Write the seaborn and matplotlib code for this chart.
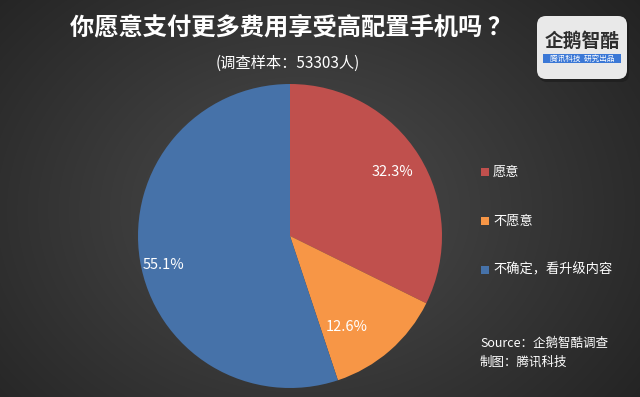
import numpy as np
import matplotlib
matplotlib.use("Agg")
import matplotlib.pyplot as plt
import seaborn as sns
from matplotlib.patches import FancyBboxPatch, Rectangle

sns.set_theme(style="white")
plt.rcParams['font.family'] = ['Noto Sans CJK SC', 'DejaVu Sans']

title = "你愿意支付更多费用享受高配置手机吗 ？"
subtitle = "(调查样本：53303人)"
categories = ["愿意", "不愿意", "不确定，看升级内容"]
values = [32.3, 12.6, 55.1]
colors = ["#c0504d", "#f79646", "#4672a9"]

W, H = 640, 397
fig = plt.figure(figsize=(W / 100, H / 100), dpi=100)

# background radial gradient
bg = fig.add_axes([0, 0, 1, 1])
yy, xx = np.mgrid[0:H, 0:W]
d = np.sqrt(((xx - 300) / 420.0) ** 2 + ((yy - 210) / 330.0) ** 2)
v = np.clip(0.30 - 0.16 * d, 0.13, 0.30)
img = np.dstack([v, v, v])
bg.imshow(img, extent=[0, W, H, 0], aspect='auto')
bg.set_xlim(0, W)
bg.set_ylim(H, 0)
bg.axis('off')

# pie axes: center (290,236), radius ~152
cx, cy, r = 290, 236, 152
ax = fig.add_axes([(cx - r) / W, 1 - (cy + r) / H, 2 * r / W, 2 * r / H])
wedges, texts = ax.pie(values, colors=colors, startangle=90, counterclock=False,
                       wedgeprops=dict(linewidth=0))
ax.set_aspect('auto')
ax.set_xlim(-1, 1)
ax.set_ylim(-1, 1)
ax.axis('off')

# overlay for text
ov = fig.add_axes([0, 0, 1, 1])
ov.set_xlim(0, W)
ov.set_ylim(H, 0)
ov.axis('off')
ov.patch.set_alpha(0)

# percentage labels
label_pos = [(392, 172), (347, 327), (164, 265)]
for (x, y), val in zip(label_pos, values):
    ov.text(x, y, f"{val}%", color="white", fontsize=10.5, ha="center", va="center")

# title & subtitle
ov.text(291, 28, title, color="white", fontsize=17.5, fontweight="bold", ha="center", va="center")
ov.text(288, 63, subtitle, color="white", fontsize=11, ha="center", va="center")

# legend
leg_y = [172, 221, 270]
for y, c, lab in zip(leg_y, colors, categories):
    ov.add_patch(Rectangle((481, y - 4), 8, 8, color=c, lw=0))
    ov.text(493, y, lab, color="white", fontsize=9.5, ha="left", va="center")

# source
ov.text(480, 343, "Source：企鹅智酷调查", color="white", fontsize=9, style="italic",
        ha="left", va="center")
ov.text(480, 362, "制图：腾讯科技", color="white", fontsize=9, style="italic",
        ha="left", va="center")

# logo
ov.add_patch(FancyBboxPatch((539, 18), 90, 64, boxstyle="round,pad=0,rounding_size=8",
                            fc="#1a1a1a", ec="none", alpha=0.6))
ov.add_patch(FancyBboxPatch((537, 16), 90, 63, boxstyle="round,pad=0,rounding_size=9",
                            fc="#e9e9e9", ec="none"))
ov.text(582, 41, "企鹅智酷", color="#2e2e2e", fontsize=13.5, fontweight="bold",
        ha="center", va="center")
ov.add_patch(Rectangle((543, 54), 78, 9, color="#3b78d6", lw=0))
ov.text(582, 58.5, "腾讯科技  研究出品", color="white", fontsize=5.5, ha="center", va="center")

fig.savefig("out.png", dpi=100)
